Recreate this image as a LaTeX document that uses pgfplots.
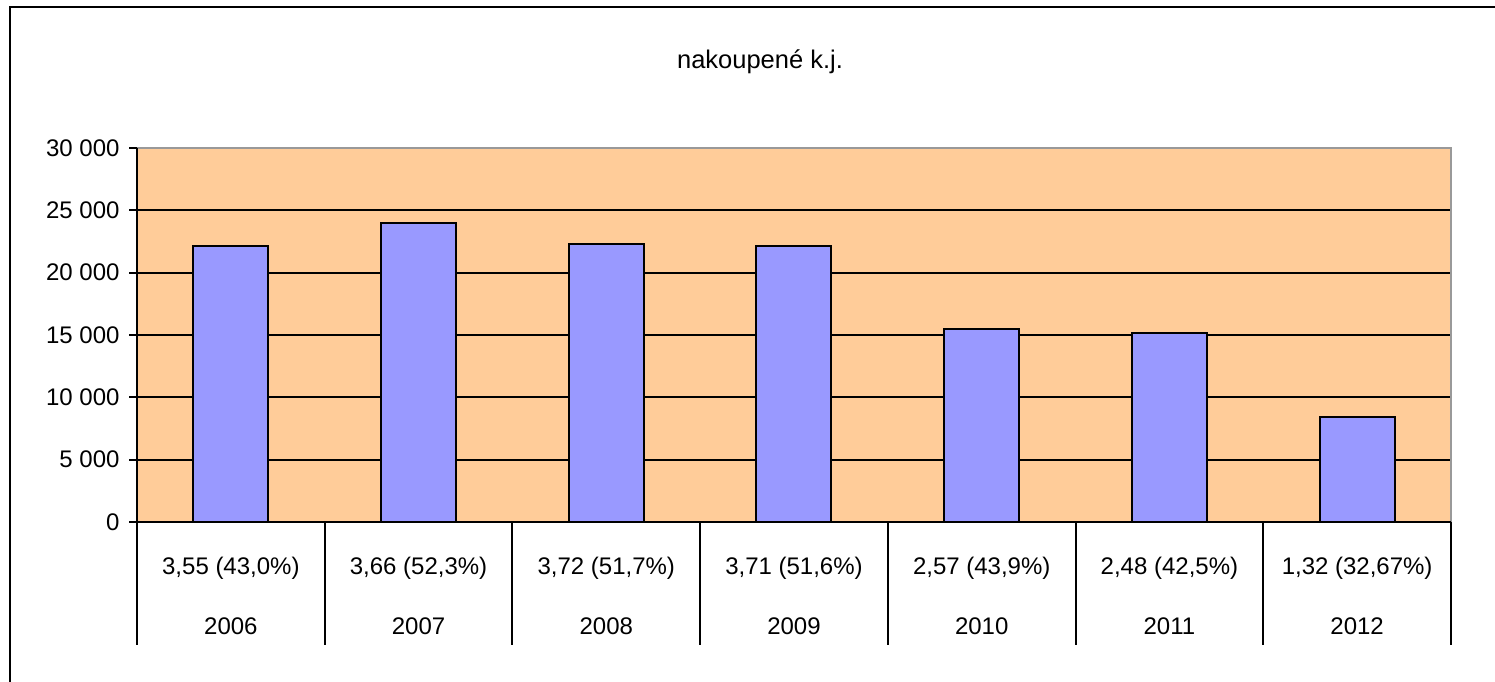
\documentclass[border=0pt]{standalone}
\usepackage{pgfplots}
\pgfplotsset{compat=1.18}
\usepackage{fontspec}
\setmainfont{Liberation Sans}
\definecolor{plotbg}{HTML}{FFCC99}
\definecolor{barcol}{HTML}{9999FF}
\begin{document}
\begin{tikzpicture}[font=\fontsize{24bp}{28bp}\selectfont]
\path[use as bounding box] (0,0) rectangle (1495bp,682bp);
\draw[black, line width=2.5bp] (10bp,0) -- (10bp,675bp) -- (1495bp,675bp);
\node[font=\fontsize{25.5bp}{30bp}\selectfont] at (760bp,620bp) {nakoupené k.j.};
\begin{axis}[
  at={(137bp,160bp)}, anchor=south west,
  scale only axis, width=1314bp, height=374bp,
  xmin=-0.5, xmax=6.5, ymin=0, ymax=30000,
  clip=false,
  scaled y ticks=false,
  axis background/.style={fill=plotbg},
  axis line style={draw=gray!80, line width=1.2bp},
  ytick={0,5000,10000,15000,20000,25000},
  yticklabels={0,5 000,10 000,15 000,20 000,25 000},
  extra y ticks={30000}, extra y tick labels={30 000},
  extra y tick style={ymajorgrids=false},
  ymajorgrids, grid style={black, line width=2bp}, major grid style={black, line width=2bp},
  ytick pos=left, xtick pos=bottom,
  tick align=outside,
  major tick length=8bp,
  y tick style={black, line width=2bp},
  yticklabel style={xshift=-6bp},
  xtick={0,1,2,3,4,5,6},
  xticklabels={{3,55 (43,0\%)\\[32bp]2006},{3,66 (52,3\%)\\[32bp]2007},{3,72 (51,7\%)\\[32bp]2008},{3,71 (51,6\%)\\[32bp]2009},{2,57 (43,9\%)\\[32bp]2010},{2,48 (42,5\%)\\[32bp]2011},{1,32 (32,67\%)\\[32bp]2012}},
  xticklabel style={align=center, yshift=-24bp},
  x tick style={draw=none},
]
\addplot[ybar, bar width=75bp, fill=barcol, draw=black, line width=2bp]
  coordinates {(0,22100) (1,24000) (2,22300) (3,22100) (4,15480) (5,15130) (6,8400)};
\draw[black, line width=2bp] (rel axis cs:0,0) -- (rel axis cs:0,1);
\draw[black, line width=2bp] (rel axis cs:0,0) -- (rel axis cs:1,0);
\draw[black, line width=2bp] (axis cs:-0.5,0) -- ++(0bp,-123bp);
\draw[black, line width=2bp] (axis cs:0.5,0) -- ++(0bp,-123bp);
\draw[black, line width=2bp] (axis cs:1.5,0) -- ++(0bp,-123bp);
\draw[black, line width=2bp] (axis cs:2.5,0) -- ++(0bp,-123bp);
\draw[black, line width=2bp] (axis cs:3.5,0) -- ++(0bp,-123bp);
\draw[black, line width=2bp] (axis cs:4.5,0) -- ++(0bp,-123bp);
\draw[black, line width=2bp] (axis cs:5.5,0) -- ++(0bp,-123bp);
\draw[black, line width=2bp] (axis cs:6.5,0) -- ++(0bp,-123bp);
\end{axis}
\end{tikzpicture}
\end{document}
